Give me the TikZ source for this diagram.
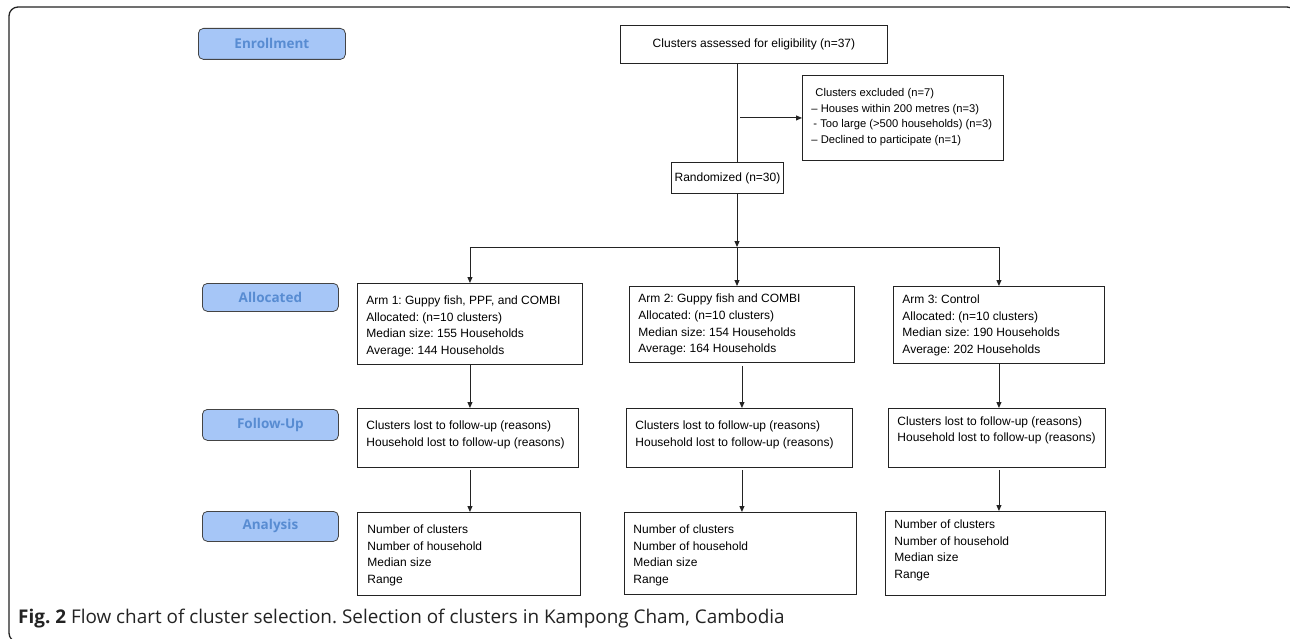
\documentclass[tikz,border=0pt]{standalone}
\usepackage{fontspec}
\setmainfont{Liberation Sans}
\newfontfamily\osans{Open Sans}
\usetikzlibrary{arrows.meta,calc}
\definecolor{lblfill}{RGB}{166,198,247}
\definecolor{lbltext}{RGB}{88,140,210}
\definecolor{lnc}{RGB}{35,35,35}
\tikzset{
  boxst/.style={draw=lnc, line width=0.9pt, inner sep=0pt, font=\fontsize{12}{16.67}\selectfont},
  lblst/.style={draw=lnc!85, line width=0.8pt, fill=lblfill, rounded corners=5pt, inner sep=0pt,
                font=\osans\bfseries\fontsize{13.5}{16}\selectfont, text=lbltext},
  arr/.style={draw=lnc, line width=0.9pt, -{Triangle[length=6pt,width=5pt]}},
  ln/.style={draw=lnc, line width=0.9pt},
}
\newcommand{\flowbox}[8]{\node[boxst, anchor=north west] (#1) at (#2,#3)
  {\parbox[c][#5pt][t]{#4pt}{\vspace*{#6pt}\leftskip=#7pt\relax\strut #8}};}
\newcommand{\lblbox}[6]{\node[lblst, anchor=north west, minimum width=#4pt, minimum height=#5pt] (#1) at (#2,#3) {#6};}
\frenchspacing
\begin{document}
\begin{tikzpicture}[x=1pt,y=-1pt]
\useasboundingbox (0,0) rectangle (1290,639);
\clip (0,0) rectangle (1290,639);
\draw[lnc, line width=1.3pt, rounded corners=9pt] (9,7) rectangle (1296,642);

% stage labels
\lblbox{enr}{198}{28}{147}{31}{Enrollment}
\lblbox{alc}{202}{283}{136}{28}{Allocated}
\lblbox{fup}{202}{409}{136}{31}{Follow-Up}
\lblbox{ana}{202}{511}{136}{30}{Analysis}

% enrollment part
\node[boxst, anchor=north west, minimum width=267pt, minimum height=38pt] (assess) at (620,25)
  {Clusters assessed for eligibility (n=37)};
\node[boxst, anchor=north west, minimum width=112pt, minimum height=31pt] (rand) at (671,162)
  {Randomized (n=30)};
\node[boxst, anchor=north west, font=\fontsize{11.2}{15.67}\selectfont] (excl) at (802,75)
  {\parbox[c][85pt][t]{201pt}{\vspace*{10pt}\leftskip=9pt\relax\strut\hspace*{4pt}Clusters excluded (n=7)\\
   – Houses within 200 metres (n=3)\\
   \hspace*{2pt}- Too large (>500 households) (n=3)\\
   – Declined to participate (n=1)}};

% arms
\flowbox{a1}{357}{283}{225}{81}{9.4}{9}{Arm 1: Guppy fish, PPF, and COMBI\\Allocated: (n=10 clusters)\\Median size: 155 Households\\Average: 144 Households}
\flowbox{a2}{629}{286}{225}{76}{4.6}{9}{Arm 2: Guppy fish and COMBI\\Allocated: (n=10 clusters)\\Median size: 154 Households\\Average: 164 Households}
\flowbox{a3}{893}{286}{211}{77}{5.3}{9}{Arm 3: Control\\Allocated: (n=10 clusters)\\Median size: 190 Households\\Average: 202 Households}

\flowbox{f1}{357}{408}{221}{59}{9.3}{9}{Clusters lost to follow-up (reasons)\\Household lost to follow-up (reasons)}
\flowbox{f2}{626}{408}{226}{59}{9.3}{9}{Clusters lost to follow-up (reasons)\\Household lost to follow-up (reasons)}
\flowbox{f3}{888}{408}{217}{59}{4.9}{9}{Clusters lost to follow-up (reasons)\\Household lost to follow-up (reasons)}

\flowbox{n1}{357}{512}{223}{83}{9.3}{10}{Number of clusters\\Number of household\\Median size\\Range}
\flowbox{n2}{624}{512}{232}{82}{9.3}{9}{Number of clusters\\Number of household\\Median size\\Range}
\flowbox{n3}{885}{511}{220}{84}{5.3}{9}{Number of clusters\\Number of household\\Median size\\Range}

% connectors
\coordinate (trunk) at (737,0);
\coordinate (split) at (737,247);
\draw[ln] (assess.south -| trunk) -- (rand.north -| trunk);
\draw[arr] ($(excl.west -| trunk)+(3,0)$) -- (excl.west);
\draw[arr] (rand.south -| trunk) -- (split);
\draw[ln] (a1.north |- split) -- (a3.north |- split);
\draw[arr] (a1.north |- split) -- (a1.north);
\draw[arr] (split) -- (a2.north -| split);
\draw[arr] (a3.north |- split) -- (a3.north);

\draw[arr] (a1.south) -- (a1.south |- f1.north);
\draw[arr, shorten <=3pt] (a2.south) -- (a2.south |- f2.north);
\draw[arr] (a3.south) -- (a3.south |- f3.north);

\draw[arr, shorten <=2pt] (f1.south -| a1.south) -- (n1.north -| a1.south);
\draw[arr, shorten <=2pt] (f2.south -| a2.south) -- (n2.north -| a2.south);
\draw[arr, shorten <=2pt] (f3.south -| a3.south) -- (n3.north -| a3.south);

% caption
\node[anchor=base west, inner sep=0pt, font=\osans\fontsize{18.9}{22}\selectfont, text=lnc] (cap) at (18,623)
  {\textbf{Fig. 2} Flow chart of cluster selection. Selection of clusters in Kampong Cham, Cambodia};
\end{tikzpicture}
\end{document}
